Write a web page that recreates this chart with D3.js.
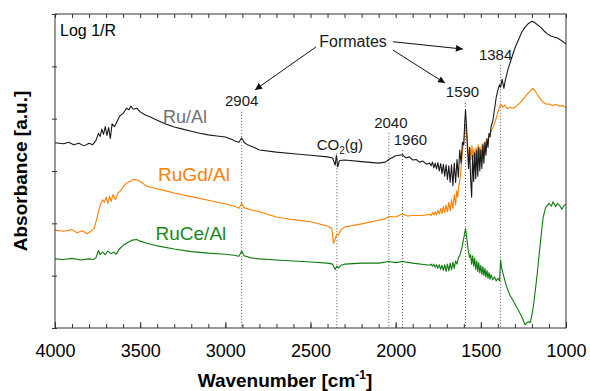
<!DOCTYPE html>
<html>
<head>
<meta charset="utf-8">
<script src="https://cdnjs.cloudflare.com/ajax/libs/d3/7.8.5/d3.min.js"></script>
<style>
body { margin: 0; background: #fff; }
svg text { font-family: "Liberation Sans", Arial, sans-serif; }
</style>
</head>
<body>
<div id="chart"></div>
<script>
// DRIFT spectra, [wavenumber, absorbance a.u. (offset per sample)]
var ruAl = [
  [4000,3.54],[3950,3.52],[3920,3.55],[3890,3.50],[3860,3.53],[3830,3.48],[3800,3.53],[3780,3.50],
  [3760,3.58],[3745,3.72],[3735,3.66],[3725,3.80],[3715,3.70],[3705,3.85],[3695,3.68],[3685,3.83],
  [3675,3.62],[3665,3.90],[3650,3.85],[3635,3.95],[3620,4.05],[3600,4.10],[3580,4.20],[3565,4.17],
  [3555,4.24],[3540,4.18],[3520,4.20],[3500,4.13],[3470,4.07],[3440,4.03],[3400,3.97],[3350,3.90],
  [3300,3.84],[3250,3.80],[3200,3.76],[3150,3.72],[3100,3.69],[3050,3.67],[3000,3.65],[2960,3.60],
  [2940,3.57],[2920,3.55],[2904,3.63],[2890,3.55],[2870,3.50],[2830,3.45],[2800,3.40],[2700,3.36],
  [2600,3.33],[2500,3.30],[2400,3.27],[2370,3.25],[2355,3.11],[2348,3.30],[2340,3.08],[2330,3.20],
  [2300,3.21],[2200,3.18],[2100,3.15],[2060,3.17],[2040,3.22],[2000,3.29],[1960,3.31],[1940,3.25],
  [1920,3.27],[1900,3.21],[1880,3.22],[1860,3.17],[1840,3.19],[1820,3.13],[1800,3.15],[1792,3.10],
  [1784,3.17],[1776,3.06],[1768,3.15],[1760,3.04],[1752,3.16],[1744,3.00],[1736,3.14],[1728,2.95],
  [1720,3.13],[1712,2.90],[1704,3.12],[1696,2.84],[1688,3.10],[1680,2.78],[1672,3.12],[1664,2.72],
  [1656,3.15],[1648,2.78],[1640,3.22],[1632,2.88],[1624,3.40],[1616,3.15],[1608,3.55],[1600,3.50],
  [1595,3.90],[1590,4.17],[1584,3.85],[1578,3.40],[1572,3.05],[1566,3.45],[1560,2.85],[1554,2.50],
  [1548,3.30],[1542,2.80],[1536,3.35],[1530,2.85],[1524,3.40],[1518,2.90],[1512,3.45],[1506,3.00],
  [1500,3.40],[1494,3.05],[1488,3.50],[1482,3.15],[1476,3.55],[1470,3.30],[1464,3.62],[1458,3.45],
  [1452,3.72],[1446,3.65],[1440,3.85],[1430,3.95],[1420,4.17],[1410,4.40],[1400,4.55],[1390,4.65],
  [1384,4.60],[1375,4.75],[1365,4.58],[1355,4.75],[1340,4.95],[1320,5.15],[1300,5.35],[1280,5.50],
  [1260,5.65],[1240,5.75],[1220,5.82],[1200,5.86],[1185,5.84],[1170,5.80],[1150,5.75],[1130,5.68],
  [1110,5.62],[1090,5.58],[1070,5.56],[1050,5.54],[1030,5.50],[1010,5.45],[1000,5.43]
];

var ruGdAl = [
  [4000,1.87],[3950,1.85],[3900,1.88],[3870,1.82],[3840,1.86],[3810,1.80],[3790,1.85],[3770,1.90],
  [3750,2.15],[3735,2.35],[3720,2.45],[3710,2.40],[3700,2.50],[3690,2.38],[3680,2.52],[3670,2.42],
  [3660,2.55],[3645,2.45],[3630,2.58],[3615,2.62],[3600,2.70],[3580,2.77],[3560,2.80],[3540,2.84],
  [3520,2.83],[3500,2.80],[3470,2.73],[3450,2.70],[3400,2.66],[3350,2.62],[3300,2.58],[3200,2.51],
  [3100,2.44],[3000,2.37],[2950,2.33],[2920,2.29],[2904,2.38],[2890,2.30],[2850,2.26],[2800,2.22],
  [2700,2.12],[2600,2.07],[2500,2.03],[2400,1.95],[2375,1.90],[2365,1.62],[2355,1.70],[2345,1.80],
  [2335,1.78],[2320,1.88],[2300,1.93],[2200,1.99],[2100,2.06],[2060,2.09],[2040,2.13],[2000,2.12],
  [1960,2.18],[1930,2.14],[1900,2.15],[1850,2.15],[1800,2.17],[1792,2.15],[1784,2.20],[1776,2.16],
  [1768,2.22],[1760,2.16],[1752,2.25],[1744,2.18],[1736,2.28],[1728,2.19],[1720,2.32],[1712,2.20],
  [1704,2.35],[1696,2.22],[1688,2.40],[1680,2.24],[1672,2.45],[1664,2.28],[1656,2.55],[1648,2.35],
  [1642,2.62],[1636,2.50],[1630,2.70],[1620,2.90],[1610,3.30],[1600,3.60],[1590,3.88],[1582,3.65],
  [1576,3.45],[1570,3.20],[1564,3.45],[1558,3.22],[1552,3.48],[1546,3.25],[1540,3.42],[1534,3.18],
  [1528,3.45],[1522,3.22],[1516,3.50],[1510,3.28],[1504,3.45],[1498,3.30],[1492,3.52],[1486,3.38],
  [1480,3.55],[1474,3.42],[1468,3.60],[1462,3.52],[1455,3.65],[1440,3.75],[1420,3.90],[1400,4.12],
  [1384,4.28],[1370,4.22],[1360,4.26],[1345,4.19],[1330,4.22],[1310,4.20],[1290,4.24],[1270,4.30],
  [1250,4.38],[1230,4.46],[1210,4.53],[1195,4.58],[1180,4.52],[1160,4.42],[1140,4.33],[1120,4.28],
  [1100,4.28],[1080,4.25],[1060,4.27],[1040,4.24],[1020,4.25],[1000,4.21]
];

var ruCeAl = [
  [4000,1.32],[3950,1.31],[3900,1.33],[3850,1.30],[3800,1.32],[3775,1.31],[3760,1.34],[3745,1.48],
  [3735,1.40],[3720,1.45],[3705,1.40],[3690,1.47],[3670,1.42],[3655,1.45],[3640,1.41],[3625,1.50],
  [3600,1.58],[3570,1.64],[3545,1.68],[3520,1.69],[3500,1.66],[3470,1.63],[3450,1.61],[3400,1.57],
  [3300,1.51],[3200,1.46],[3100,1.43],[3000,1.41],[2950,1.39],[2920,1.37],[2904,1.47],[2890,1.38],
  [2850,1.34],[2800,1.32],[2700,1.30],[2600,1.28],[2500,1.26],[2400,1.24],[2370,1.22],[2355,1.12],
  [2345,1.18],[2335,1.15],[2320,1.20],[2300,1.22],[2200,1.24],[2100,1.24],[2040,1.27],[2000,1.25],
  [1960,1.27],[1900,1.24],[1800,1.20],[1792,1.22],[1784,1.18],[1776,1.22],[1768,1.16],[1760,1.21],
  [1752,1.14],[1744,1.21],[1736,1.12],[1728,1.20],[1720,1.10],[1712,1.21],[1704,1.08],[1696,1.22],
  [1688,1.09],[1680,1.24],[1672,1.11],[1664,1.26],[1656,1.14],[1648,1.28],[1640,1.22],[1632,1.34],
  [1624,1.38],[1616,1.48],[1608,1.58],[1600,1.72],[1590,1.90],[1582,1.70],[1574,1.48],[1566,1.35],
  [1560,1.40],[1554,1.22],[1548,1.38],[1542,1.18],[1536,1.33],[1530,1.12],[1524,1.28],[1518,1.08],
  [1512,1.25],[1506,1.05],[1500,1.20],[1494,1.02],[1488,1.17],[1482,1.00],[1476,1.14],[1470,0.97],
  [1464,1.10],[1458,0.95],[1452,1.06],[1446,0.93],[1440,1.02],[1430,0.92],[1420,0.98],[1410,0.90],
  [1400,0.95],[1390,0.90],[1384,1.30],[1378,1.15],[1368,1.02],[1350,0.80],[1330,0.63],[1310,0.52],
  [1290,0.40],[1270,0.28],[1255,0.18],[1240,0.06],[1230,0.10],[1220,0.12],[1210,0.10],[1200,0.25],
  [1190,0.45],[1170,1.00],[1153,1.55],[1135,2.10],[1120,2.30],[1100,2.38],[1085,2.33],[1077,2.41],
  [1060,2.32],[1050,2.38],[1035,2.33],[1025,2.27],[1010,2.35],[1000,2.36]
];

var seriesNames = ["Ru/Al", "RuGd/Al", "RuCe/Al"];
var seriesColors = ["#1a1a1a", "#ff8000", "#0f7a0f"];
var labelColors = ["#707070", "#ff8000", "#198a19"];

var xTickLabels = [4000, 3500, 3000, 2500, 2000, 1500, 1000];
var yTicks = [0, 1, 2, 3, 4, 5, 6];

// marked bands: wavenumber, label, label baseline (a.u.), top of dotted line (a.u.), label shift px
var bands = [
  [2904, "2904", 4.24, 4.13, 0],
  [2345, "CO2(g)", 3.40, 3.34, 3],
  [2040, "2040", 3.82, 3.73, 2],
  [1960, "1960", 3.50, 3.40, 8],
  [1590, "1590", 4.41, 4.30, -3],
  [1384, "1384", 5.12, 5.03, -5]
];

// arrows from "Formates" label: [x1, y1, x2, y2] in wavenumber / a.u.
var arrows = [
  [2468, 5.37, 2826, 4.55],
  [2016, 5.47, 1605, 5.33],
  [2016, 5.31, 1710, 4.68]
];

var W = 590, H = 391;
var margin = { top: 14, right: 24, bottom: 63, left: 55 };
var w = W - margin.left - margin.right;
var h = H - margin.top - margin.bottom;

var svg = d3.select("#chart").append("svg")
    .attr("width", W)
    .attr("height", H);

var g = svg.append("g")
    .attr("transform", "translate(" + margin.left + "," + margin.top + ")");

var x = d3.scaleLinear().domain([4000, 1000]).range([0, w]);
var y = d3.scaleLinear().domain([0, 6]).range([h, 0]);

// dotted band markers
g.selectAll(".band")
    .data(bands)
    .enter().append("line")
    .attr("class", "band")
    .attr("x1", function(d){ return x(d[0]); })
    .attr("x2", function(d){ return x(d[0]); })
    .attr("y1", function(d){ return y(d[3]); })
    .attr("y2", h)
    .attr("stroke", "#555")
    .attr("stroke-width", 1)
    .attr("stroke-dasharray", "1,2");

var line = d3.line()
    .x(function(d){ return x(d[0]); })
    .y(function(d){ return y(d[1]); });

var spectra = [ruCeAl, ruGdAl, ruAl];
var colorOf = [seriesColors[2], seriesColors[1], seriesColors[0]];

g.selectAll(".spectrum")
    .data(spectra)
    .enter().append("path")
    .attr("class", "spectrum")
    .attr("d", line)
    .attr("fill", "none")
    .attr("stroke", function(d, i){ return colorOf[i]; })
    .attr("stroke-width", 1.1)
    .attr("stroke-linejoin", "round");

// frame
g.append("rect")
    .attr("width", w)
    .attr("height", h)
    .attr("fill", "none")
    .attr("stroke", "#333")
    .attr("stroke-width", 1);

// bottom axis, inward ticks every 100
var minor = d3.range(1000, 4001, 100);
g.append("g")
    .attr("transform", "translate(0," + h + ")")
    .call(d3.axisBottom(x).tickValues(minor).tickSize(-4).tickFormat(""))
    .call(function(a){ a.select(".domain").remove(); a.selectAll("line").attr("stroke", "#333"); });

g.append("g")
    .attr("transform", "translate(0," + h + ")")
    .call(d3.axisBottom(x).tickValues(xTickLabels).tickSize(-6).tickPadding(16).tickFormat(d3.format("d")))
    .call(function(a){
        a.select(".domain").remove();
        a.selectAll("line").attr("stroke", "#333");
        a.selectAll("text")
            .attr("font-size", 18)
            .attr("fill", "#000")
            .style("font-family", "'Liberation Sans', Arial, sans-serif");
    });

// top ticks
g.append("g")
    .call(d3.axisTop(x).tickValues(minor).tickSize(-4).tickFormat(""))
    .call(function(a){ a.select(".domain").remove(); a.selectAll("line").attr("stroke", "#333"); });

// left ticks (no labels)
g.append("g")
    .attr("transform", "translate(2,0)")
    .call(d3.axisLeft(y).tickValues(yTicks).tickSize(5).tickFormat(""))
    .call(function(a){ a.select(".domain").remove(); a.selectAll("line").attr("stroke", "#333"); });

// axis titles
svg.append("text")
    .attr("transform", "translate(27," + (margin.top + h / 2) + ") rotate(-90)")
    .attr("text-anchor", "middle")
    .attr("font-size", 19)
    .attr("font-weight", "bold")
    .text("Absorbance [a.u.]");

var xt = svg.append("text")
    .attr("x", 285)
    .attr("y", 387)
    .attr("text-anchor", "middle")
    .attr("font-size", 19)
    .attr("font-weight", "bold");
xt.append("tspan").text("Wavenumber [cm");
xt.append("tspan").attr("dy", -8).attr("font-size", 12).text("-1");
xt.append("tspan").attr("dy", 8).text("]");

g.append("text")
    .attr("x", 5)
    .attr("y", 22)
    .attr("font-size", 16)
    .text("Log 1/R");

// series labels
var seriesLabelPos = [[3237, 3.92], [3184, 2.81], [3202, 1.68]];
g.selectAll(".slabel")
    .data(seriesNames)
    .enter().append("text")
    .attr("class", "slabel")
    .attr("x", function(d, i){ return x(seriesLabelPos[i][0]); })
    .attr("y", function(d, i){ return y(seriesLabelPos[i][1]); })
    .attr("text-anchor", "middle")
    .attr("font-size", function(d, i){ return i == 0 ? 18 : 19; })
    .attr("fill", function(d, i){ return labelColors[i]; })
    .text(function(d){ return d; });

// band labels
var bl = g.selectAll(".blabel")
    .data(bands)
    .enter().append("text")
    .attr("class", "blabel")
    .attr("x", function(d){ return x(d[0]) + d[4]; })
    .attr("y", function(d){ return y(d[2]); })
    .attr("text-anchor", "middle")
    .attr("font-size", 15)
    .attr("fill", "#1a1a1a");

bl.each(function(d){
    var t = d3.select(this);
    if (d[1] == "CO2(g)") {
        t.append("tspan").text("CO");
        t.append("tspan").attr("dy", 4).attr("font-size", 10).text("2");
        t.append("tspan").attr("dy", -4).text("(g)");
    } else {
        t.text(d[1]);
    }
});

// Formates + arrows
svg.append("defs").append("marker")
    .attr("id", "head")
    .attr("viewBox", "0 0 10 10")
    .attr("refX", 10)
    .attr("refY", 5)
    .attr("markerWidth", 9)
    .attr("markerHeight", 7)
    .attr("markerUnits", "userSpaceOnUse")
    .attr("orient", "auto")
    .append("path")
    .attr("d", "M0,0L10,5L0,10z")
    .attr("fill", "#111");

g.append("text")
    .attr("x", x(2250))
    .attr("y", y(5.37))
    .attr("text-anchor", "middle")
    .attr("font-size", 16)
    .attr("fill", "#1a1a1a")
    .text("Formates");

g.selectAll(".arrow")
    .data(arrows)
    .enter().append("line")
    .attr("class", "arrow")
    .attr("x1", function(d){ return x(d[0]); })
    .attr("y1", function(d){ return y(d[1]); })
    .attr("x2", function(d){ return x(d[2]); })
    .attr("y2", function(d){ return y(d[3]); })
    .attr("stroke", "#111")
    .attr("stroke-width", 1)
    .attr("marker-end", "url(#head)");
</script>
</body>
</html>
